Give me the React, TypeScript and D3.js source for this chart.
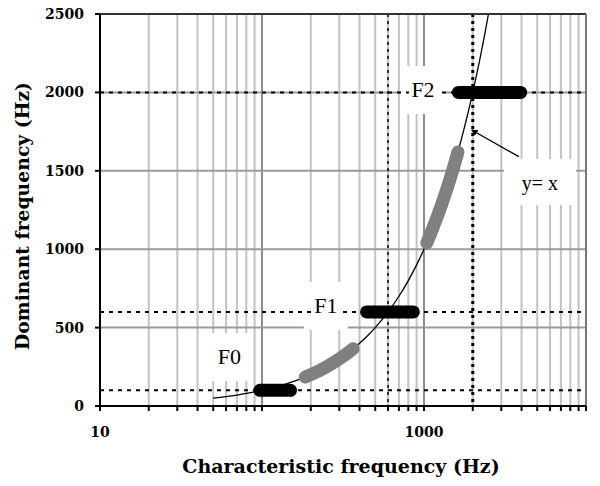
import React from "react";
import * as d3 from "d3";

// ---- data ----
const yTicks = [0, 500, 1000, 1500, 2000, 2500];
const xTickLabels = [10, 1000];
const formantNames = ["F0", "F1", "F2"];
const formantLevels = [100, 600, 2000]; // dominant frequency plateaus (Hz)
const plateauStart = [97, 442, 1630];
const plateauEnd = [150, 860, 3950];
const transitionStart = [185, 1040];
const transitionEnd = [365, 1620];
const identitySamples = [
  50, 60, 70, 80, 90, 100, 120, 140, 160, 180, 200, 250, 300, 350, 400, 450, 500, 600, 700, 800,
  900, 1000, 1100, 1200, 1300, 1400, 1500, 1600, 1700, 1800, 1900, 2000, 2100, 2200, 2300, 2400, 2500,
];
const referenceX = [600, 2000];
// label anchors in data units [x, y]
const formantLabelPos: [number, number][] = [[63, 312], [248, 638], [986, 2015]];
const identityLabel = "y= x";
const identityLabelPos: [number, number] = [5200, 1422];
const arrowTail: [number, number] = [3850, 1590];
const arrowTip: [number, number] = [1970, 1760];

const W = 600;
const H = 486;

export default function App() {
  const x = d3.scaleLog().domain([10, 10000]).range([100, 586]);
  const y = d3.scaleLinear().domain([0, 2500]).range([406, 14]);
  const xt = x.ticks();

  const line = d3
    .line<number>()
    .x((d) => x(d))
    .y((d) => y(d))
    .curve(d3.curveMonotoneX);

  const seg = (a: number, b: number) => [a, ...identitySamples.filter((v) => v > a && v < b), b];

  const serif = "'Liberation Serif', 'Times New Roman', serif";
  const tickFont = "'DejaVu Serif', serif";

  return (
    <svg width={W} height={H} style={{ position: "absolute", left: 0, top: 0, background: "#fff" }}>
      <rect x={0} y={0} width={W} height={H} fill="#fff" />
      {/* vertical gridlines */}
      {xt.map((t, i) => {
        const major = Math.abs(Math.log10(t) - Math.round(Math.log10(t))) < 1e-9;
        return (
          <line key={"vg" + i} x1={x(t)} x2={x(t)} y1={y(2500)} y2={y(0)} stroke={major ? "#8c8c8c" : "#c2c2c2"} strokeWidth={2} />
        );
      })}
      {/* horizontal gridlines */}
      {yTicks.slice(1).map((t) => (
        <line key={"hg" + t} x1={x(10)} x2={x(10000)} y1={y(t)} y2={y(t)} stroke="#9a9a9a" strokeWidth={2} />
      ))}
      {/* label boxes covering the grid */}
      {formantLabelPos.map((p, i) => (
        <rect key={"lb" + i} x={x(p[0]) - 22} y={y(p[1]) - 24} width={44} height={48} fill="#fff" />
      ))}
      <rect x={x(identityLabelPos[0]) - 36} y={y(identityLabelPos[1]) - 24} width={72} height={46} fill="#fff" />

      {/* reference dotted lines */}
      {formantLevels.map((v, i) => (
        <line key={"hr" + i} x1={x(10)} x2={x(10000)} y1={y(v)} y2={y(v)} stroke="#000" strokeWidth={2} strokeDasharray="4,5" />
      ))}
      <line x1={x(referenceX[0])} x2={x(referenceX[0])} y1={y(2500)} y2={y(0)} stroke="#000" strokeWidth={1.5} strokeDasharray="3,4" />
      <line x1={x(referenceX[1])} x2={x(referenceX[1])} y1={y(2500)} y2={y(0)} stroke="#000" strokeWidth={3} strokeDasharray="3,4" />

      {/* identity curve */}
      <path d={line(identitySamples) || ""} fill="none" stroke="#000" strokeWidth={1.3} />

      {/* transitions (gray) */}
      {transitionStart.map((s, i) => (
        <path key={"tr" + i} d={line(seg(s, transitionEnd[i])) || ""} fill="none" stroke="#808080" strokeWidth={13} strokeLinecap="round" />
      ))}
      {/* plateaus (black) */}
      {formantLevels.map((v, i) => (
        <line key={"pl" + i} x1={x(plateauStart[i])} x2={x(plateauEnd[i])} y1={y(v)} y2={y(v)} stroke="#000" strokeWidth={13} strokeLinecap="round" />
      ))}

      {/* labels */}
      {formantNames.map((n, i) => (
        <g key={"ln" + i}>
          <rect x={x(formantLabelPos[i][0]) - 14} y={y(formantLabelPos[i][1]) - 11} width={28} height={20} fill="#fff" />
          <text x={x(formantLabelPos[i][0])} y={y(formantLabelPos[i][1]) + 7} textAnchor="middle" fontFamily={serif} fontSize={22}>
            {n}
          </text>
        </g>
      ))}
      <text x={x(identityLabelPos[0])} y={y(identityLabelPos[1]) + 7} textAnchor="middle" fontFamily={serif} fontSize={20}>
        {identityLabel}
      </text>
      {/* arrow */}
      <defs>
        <marker id="ah" viewBox="0 0 10 10" refX={9} refY={5} markerWidth={5} markerHeight={5} orient="auto">
          <path d="M0,0 L10,5 L0,10 z" fill="#000" />
        </marker>
      </defs>
      <line
        x1={x(arrowTail[0])}
        y1={y(arrowTail[1])}
        x2={x(arrowTip[0])}
        y2={y(arrowTip[1])}
        stroke="#000"
        strokeWidth={1.3}
        markerEnd="url(#ah)"
      />

      {/* frame */}
      <line x1={x(10)} x2={x(10000)} y1={y(2500)} y2={y(2500)} stroke="#333" strokeWidth={2} />
      <line x1={x(10000)} x2={x(10000)} y1={y(2500)} y2={y(0)} stroke="#777" strokeWidth={2} />
      {/* axes */}
      <line x1={x(10)} x2={x(10000)} y1={y(0)} y2={y(0)} stroke="#000" strokeWidth={2} />
      <line x1={x(10)} x2={x(10)} y1={y(2500)} y2={y(0)} stroke="#000" strokeWidth={2} />
      {xt.map((t, i) => (
        <line key={"xt" + i} x1={x(t)} x2={x(t)} y1={y(0)} y2={y(0) + 5} stroke="#000" strokeWidth={2} />
      ))}
      {yTicks.map((t) => (
        <line key={"yt" + t} x1={x(10) - 5} x2={x(10)} y1={y(t)} y2={y(t)} stroke="#000" strokeWidth={2} />
      ))}
      {yTicks.map((t) => (
        <text key={"yl" + t} x={84} y={y(t) + 5} textAnchor="end" fontFamily={tickFont} fontWeight="bold" fontSize={14}>
          {t}
        </text>
      ))}
      {xTickLabels.map((t) => (
        <text key={"xl" + t} x={x(t)} y={437} textAnchor="middle" fontFamily={tickFont} fontWeight="bold" fontSize={14}>
          {t}
        </text>
      ))}
      <text x={341} y={473} textAnchor="middle" fontFamily={tickFont} fontWeight="bold" fontSize={19}>
        Characteristic frequency (Hz)
      </text>
      <text transform="translate(29,216) rotate(-90)" textAnchor="middle" fontFamily={tickFont} fontWeight="bold" fontSize={18.8}>
        Dominant frequency (Hz)
      </text>
    </svg>
  );
}
